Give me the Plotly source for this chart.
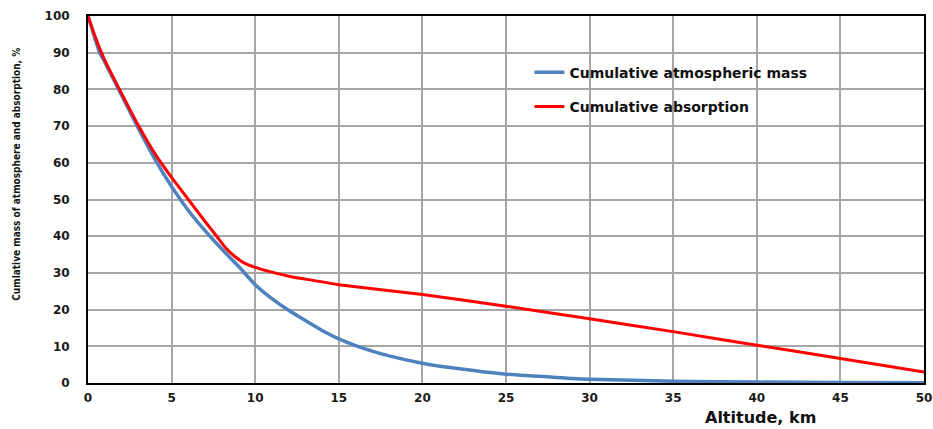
import plotly.graph_objects as go

altitude_mass = [0, 0.7, 1, 2, 3, 4, 5, 6, 7, 8, 9, 10, 11, 12, 13, 14, 15, 16, 17, 18, 20, 22, 25, 28, 30, 35, 40, 45, 50]
mass = [100, 90, 87.5, 78.5, 69.5, 61, 53.5, 47, 41.5, 36.5, 31.8, 26.8, 23, 19.8, 17, 14.3, 12, 10.2, 8.7, 7.4, 5.4, 4.0, 2.4, 1.5, 1.0, 0.5, 0.25, 0.12, 0.05]

altitude_abs = [0, 0.5, 1, 2, 3, 4, 5, 6, 7, 7.7, 8.2, 8.8, 9.3, 10, 11, 12, 13, 15, 20, 25, 30, 35, 40, 45, 50]
absorption = [100, 93.5, 88, 79, 70.3, 62.5, 56, 50, 44, 40, 37, 34.4, 32.8, 31.5, 30.2, 29.1, 28.3, 26.8, 24.1, 20.9, 17.5, 14, 10.3, 6.7, 3]

x_ticks = [0, 5, 10, 15, 20, 25, 30, 35, 40, 45, 50]
y_ticks = [0, 10, 20, 30, 40, 50, 60, 70, 80, 90, 100]

fig = go.Figure()
fig.add_trace(go.Scatter(x=altitude_mass, y=mass, mode="lines",
                         line=dict(color="#4f81bd", width=3.5, shape="spline", smoothing=0.5),
                         name="Cumulative atmospheric mass", legendgroup="a"))
fig.add_trace(go.Scatter(x=altitude_abs, y=absorption, mode="lines",
                         line=dict(color="#ff0000", width=3, shape="spline", smoothing=0.5),
                         name="Cumulative absorption", legendgroup="b"))

tickfont = dict(family="DejaVu Sans", size=12, color="#1a1a1a", weight="bold")
fig.update_layout(
    width=933, height=429,
    margin=dict(l=88, r=9, t=16, b=46, autoexpand=False),
    paper_bgcolor="white", plot_bgcolor="white",
    showlegend=True,
    legend=dict(x=0.528, y=0.889, xanchor="left", yanchor="top", bgcolor="rgba(0,0,0,0)",
                font=dict(family="DejaVu Sans", size=14, color="#111", weight="bold"),
                tracegroupgap=13),
    xaxis=dict(range=[0, 50], tickvals=x_ticks, ticktext=[str(v) for v in x_ticks],
               showgrid=True, gridcolor="#a6a6a6", gridwidth=1.5,
               showline=True, linecolor="black", linewidth=2, mirror=True, automargin=False,
               ticks="", tickfont=tickfont, ticklabelstandoff=3, zeroline=False),
    yaxis=dict(range=[0, 100], tickvals=y_ticks, ticktext=[str(v) for v in y_ticks],
               showgrid=True, gridcolor="#a6a6a6", gridwidth=1.5,
               showline=True, linecolor="black", linewidth=2, mirror=True, automargin=False,
               ticks="", tickfont=tickfont, ticklabelstandoff=14, zeroline=False),
    annotations=[
        dict(text="Cumlative mass of atmosphere and absorption, %", textangle=-90,
             xref="paper", yref="paper", x=-0.085, y=0.57, xanchor="center", yanchor="middle",
             showarrow=False,
             font=dict(family="DejaVu Sans Condensed, Liberation Sans", size=10, color="#111", weight="bold")),
        dict(text="Altitude, km", xref="paper", yref="paper", x=0.805, y=-0.093,
             xanchor="center", yanchor="middle", showarrow=False,
             font=dict(family="DejaVu Sans", size=16, color="#111", weight="bold")),
    ],
)

fig.write_html("out.html", config={"displayModeBar": False},
               post_script="document.body.style.margin='0';document.body.style.overflow='hidden';")
